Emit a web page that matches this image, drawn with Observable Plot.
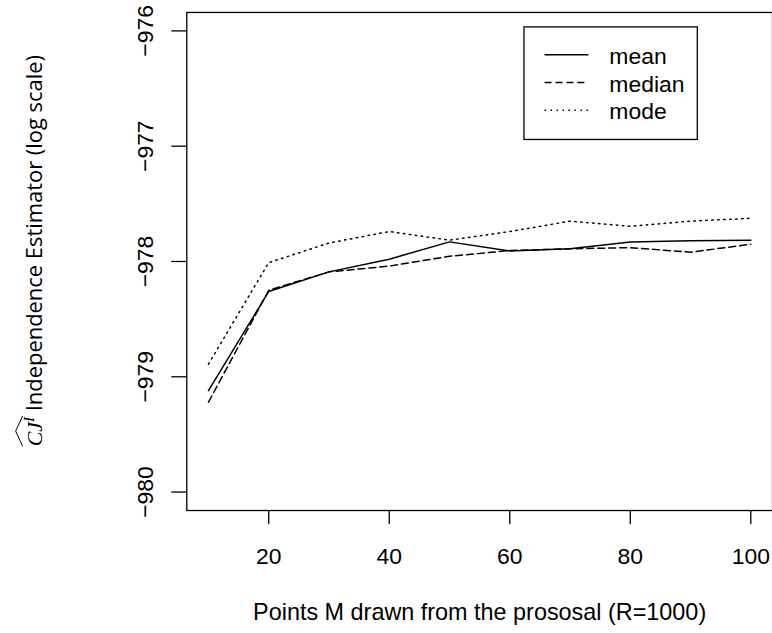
<!DOCTYPE html>
<html><head><meta charset="utf-8">
<script src="https://cdn.jsdelivr.net/npm/d3@7"></script>
<script src="https://cdn.jsdelivr.net/npm/@observablehq/plot@0.6"></script>
<style>
html,body{margin:0;padding:0;background:#fff;overflow:hidden;width:772px;height:633px}
#chart{width:772px;height:633px;overflow:hidden;position:relative}
</style></head><body><div id="chart"></div>
<script>
// ---- data ----
const M = [10, 20, 30, 40, 50, 60, 70, 80, 90, 100];
const meanVals   = [-979.12, -978.26, -978.09, -977.98, -977.83, -977.91, -977.89, -977.83, -977.82, -977.815];
const medianVals = [-979.22, -978.25, -978.09, -978.04, -977.955, -977.905, -977.89, -977.88, -977.92, -977.85];
const modeVals   = [-978.89, -978.01, -977.84, -977.74, -977.815, -977.74, -977.65, -977.695, -977.65, -977.625];
const seriesNames = ["mean", "median", "mode"];
const xTicks = [20, 40, 60, 80, 100];
const yTicks = [-980, -979, -978, -977, -976];
const xLabel = "Points M drawn from the prososal (R=1000)";
const yLabelText = " Independence Estimator (log scale)";

// ---- build table ----
const valuesBySeries = {mean: meanVals, median: medianVals, mode: modeVals};
const rows = seriesNames.flatMap(s => M.map((m, i) => ({M: m, value: valuesBySeries[s][i], series: s})));
const dashFor = {mean: null, median: "7,4", mode: "1.5,4.5"};

const font = "'Liberation Sans', Arial, Helvetica, sans-serif";
const fs = 23;
const fmt = d => String(d).replace("-", "\u2212");

const plot = Plot.plot({
  width: 775, height: 633,
  marginLeft: 187, marginRight: 0, marginTop: 12, marginBottom: 121,
  x: {domain: [6.4, 103.6], label: null},
  y: {domain: [-980.16, -975.84], label: null},
  style: {fontFamily: font, fontSize: fs + "px", color: "black", background: "white", overflow: "visible"},
  marks: [
    Plot.frame({stroke: "black", strokeWidth: 1.3}),
    Plot.axisX(xTicks, {tickSize: 14, tickPadding: 23, strokeWidth: 1.3, label: null, fontSize: fs, fontFamily: font}),
    Plot.axisY(yTicks, {tickSize: 15, tickPadding: 19, tickRotate: -90, strokeWidth: 1.3, label: null, tickFormat: fmt, fontSize: fs, fontFamily: font}),
    ...seriesNames.map(s => Plot.line(rows.filter(r => r.series === s), {
      x: "M", y: "value", stroke: "black", strokeWidth: 1.5,
      strokeDasharray: dashFor[s] ?? undefined
    })),
    Plot.text([xLabel], {text: d => d, frameAnchor: "bottom", dy: 110, lineAnchor: "bottom", fontSize: 23.5, fontFamily: font})
  ]
});
document.getElementById("chart").appendChild(plot);

const svg = d3.select(plot);

// ---- legend ----
const lg = svg.append("g").attr("font-family", font).attr("font-size", fs).attr("text-anchor", "start");
lg.append("rect").attr("x", 526).attr("y", 27).attr("width", 174).attr("height", 113)
  .attr("fill", "white").attr("stroke", "black").attr("stroke-width", 1.3);
seriesNames.forEach((name, i) => {
  const cy = 55 + i * 27.8;
  const ln = lg.append("line").attr("x1", 546.7).attr("x2", 590.7).attr("y1", cy).attr("y2", cy)
    .attr("stroke", "black").attr("stroke-width", 1.5);
  if (dashFor[name]) ln.attr("stroke-dasharray", dashFor[name]);
  lg.append("text").attr("x", 611.7).attr("y", cy).attr("dy", "0.4em").attr("fill", "black")
    .attr("text-anchor", "start").text(name);
});

// ---- y label with math hat ----
const yg = svg.append("g").attr("transform", "translate(41.7,448) rotate(-90)");
const yt = yg.append("text").attr("x", 0).attr("y", 0).attr("fill", "black").attr("font-size", 22)
  .attr("text-anchor", "start")
  .attr("font-family", "'Open Sans', 'Noto Sans', sans-serif");
yt.append("tspan").attr("font-family", "'Liberation Serif', 'DejaVu Serif', serif").attr("font-style", "italic").text("CJ");
yt.append("tspan").attr("font-family", "'Liberation Serif', 'DejaVu Serif', serif").attr("font-style", "italic")
  .attr("font-size", 15).attr("dy", -8).text("I");
yt.append("tspan").attr("dy", 8).text(yLabelText);
// hat over CJI
let hw = 30;
try {
  hw = yt.node().getSubStringLength(0, 3) + 1;
} catch (e) {}
yg.append("path").attr("d", `M0,-19 L${hw/2},-26 L${hw},-19`).attr("fill", "none").attr("stroke", "black").attr("stroke-width", 1);
</script></body></html>
